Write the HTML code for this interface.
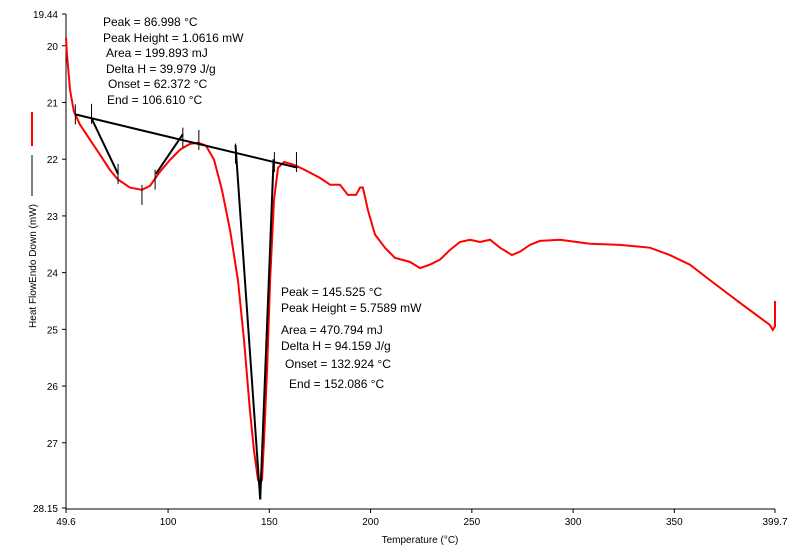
<!DOCTYPE html>
<html><head><meta charset="utf-8"><style>
body{margin:0;background:#fff;}
svg{display:block;font-family:"Liberation Sans",sans-serif;}
</style></head><body>
<svg id="chart" width="801" height="553" viewBox="0 0 801 553"></svg>
<script>
const temps=[49.6,50.1,51.6,53.5,56.5,61.5,66.4,71.3,75.3,81.2,87.1,91.1,96,101,106,110.8,114.8,118.7,122.7,126.6,130.6,134.5,137.5,140.4,142.4,144.4,145.4,146.4,147.4,148.9,150.4,152.3,154.3,157.3,162.2,167.6,175,180,184.9,188.8,192.8,194.8,196.2,198.7,202.2,207.1,212,219.4,224.4,229.3,234.3,239.2,244.1,249.1,254,259,263.9,269.8,273.8,278.7,283.7,293.5,308.3,323.1,337.9,347.8,357.7,367.5,382.3,397.1,398.6,399.7,399.7];
const heatFlow=[19.86,20.16,20.78,21.16,21.39,21.66,21.92,22.19,22.36,22.5,22.54,22.47,22.22,22.01,21.83,21.73,21.71,21.76,22.01,22.54,23.25,24.13,25.19,26.42,27.13,27.65,27.72,27.65,26.94,25.71,24.13,22.72,22.15,22.05,22.1,22.19,22.33,22.45,22.45,22.63,22.63,22.5,22.5,22.9,23.33,23.56,23.74,23.81,23.92,23.86,23.77,23.6,23.46,23.42,23.46,23.42,23.56,23.69,23.63,23.51,23.44,23.42,23.49,23.51,23.56,23.69,23.86,24.13,24.53,24.92,25.01,24.95,24.5];
const xTicks=[49.6,100,150,200,250,300,350,399.7];
const yTicks=[19.44,20,21,22,23,24,25,26,27,28.15];
const analysisLines=[[54.2,21.21,163.9,22.15],[62.2,21.28,75.3,22.26],[94,22.26,107.3,21.56],[133.3,21.75,145.5,28.0],[152.1,22.0,145.5,28.0]];
const tickMarks=[[54.2,21.21],[62.2,21.2],[75.3,22.26],[87.1,22.63],[93.6,22.36],[107.3,21.62],[115.2,21.66],[133.3,21.9],[152.5,22.05],[163.4,22.05]];
const X0=49.6,X1=399.7,Y0=19.44,Y1=28.15,L=66,R=775,T=14,B=508;
const sx=v=>L+(v-X0)/(X1-X0)*(R-L), sy=v=>T+(v-Y0)/(Y1-Y0)*(B-T);
const svg=document.getElementById('chart'),NS='http://www.w3.org/2000/svg';
function mk(t,a,p){const e=document.createElementNS(NS,t);for(const k in a)e.setAttribute(k,a[k]);(p||svg).appendChild(e);return e;}
let e;
e=mk('line',{x1:L,y1:T,x2:L,y2:B+1,stroke:'#000'});


e=mk('line',{x1:L,y1:B+1,x2:R,y2:B+1,stroke:'#000'});


xTicks.forEach(v=>{mk('line',{x1:sx(v),y1:B+1,x2:sx(v),y2:B+5,stroke:'#000'});
 e=mk('text',{x:sx(v),y:B+17,'font-size':10,'text-anchor':'middle'});e.textContent=v;
 
 });
yTicks.forEach(v=>{mk('line',{x1:L-4,y1:sy(v),x2:L,y2:sy(v),stroke:'#000'});
 e=mk('text',{x:L-8,y:sy(v)+4,'font-size':10,'text-anchor':'end'});e.textContent=v;
 
 });
e=mk('text',{x:420,y:543,'font-size':10,'text-anchor':'middle'});e.textContent='Temperature (°C)';


e=mk('text',{x:0,y:0,'font-size':10,'text-anchor':'middle',transform:'translate(36,266) rotate(-90)'});e.textContent='Heat FlowEndo Down (mW)';


e=mk('line',{x1:32,y1:112,x2:32,y2:146,stroke:'#f00','stroke-width':2});


e=mk('line',{x1:32,y1:155,x2:32,y2:196,stroke:'#000','stroke-width':1});


e=mk('polyline',{points:temps.map((t,i)=>sx(t)+','+sy(heatFlow[i])).join(' '),fill:'none',stroke:'#f00','stroke-width':2});


analysisLines.forEach(l=>{e=mk('line',{x1:sx(l[0]),y1:sy(l[1]),x2:sx(l[2]),y2:sy(l[3]),stroke:'#000','stroke-width':2});
 
 });
tickMarks.forEach(m=>{e=mk('line',{x1:sx(m[0]),y1:sy(m[1])-10,x2:sx(m[0]),y2:sy(m[1])+10,stroke:'#000'});
 
 });
const ann1=[[103,26,'Peak = 86.998 °C'],[103,42,'Peak Height = 1.0616 mW'],[106,57,'Area = 199.893 mJ'],[106,73,'Delta H = 39.979 J/g'],[108,88,'Onset = 62.372 °C'],[107,104,'End = 106.610 °C']];
const ann2=[[281,296,'Peak = 145.525 °C'],[281,312,'Peak Height = 5.7589 mW'],[281,334,'Area = 470.794 mJ'],[281,350,'Delta H = 94.159 J/g'],[285,368,'Onset = 132.924 °C'],[289,388,'End = 152.086 °C']];
ann1.concat(ann2).forEach(a=>{e=mk('text',{x:a[0],y:a[1],'font-size':12});e.textContent=a[2];
 
 });
</script>
</body></html>
